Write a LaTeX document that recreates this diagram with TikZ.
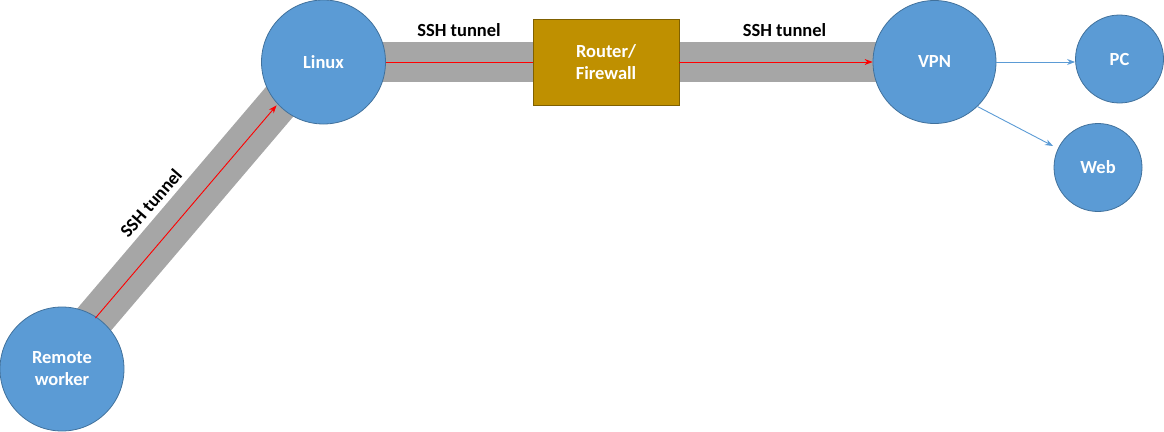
\documentclass[tikz,border=0pt]{standalone}
\usepackage{fontspec}
\setmainfont{Carlito}
\usetikzlibrary{arrows.meta,calc}
\definecolor{cfill}{HTML}{5B9BD5}
\definecolor{cline}{HTML}{41719C}
\definecolor{rfill}{HTML}{BF9000}
\definecolor{rline}{HTML}{7F6000}
\definecolor{band}{HTML}{A6A6A6}
\definecolor{tred}{HTML}{FF0000}
\begin{document}
\begin{tikzpicture}[x=1pt,y=-1pt,
  circ/.style={circle,fill=cfill,draw=cline,line width=0.8pt,inner sep=0pt,
    text=white,font=\fontsize{18.5}{22}\selectfont\bfseries,align=center},
  boxnode/.style={rectangle,fill=rfill,draw=rline,line width=0.8pt,inner sep=0pt,
    minimum width=146pt,minimum height=86pt,
    text=white,font=\fontsize{18.5}{22}\selectfont\bfseries,align=center},
  tunnel/.style={draw=band,line width=40pt},
  redarrow/.style={draw=tred,line width=0.9pt},
  bluearrow/.style={draw=cfill,line width=0.9pt,-{Stealth[length=8pt,width=6pt]}},
  lbl/.style={font=\fontsize{18.5}{22}\selectfont\bfseries,text=black,inner sep=0pt}]
\useasboundingbox (0,0) rectangle (1164,431);
% centres
\coordinate (crw) at (62,369);
\coordinate (cli) at (323.5,62);
\coordinate (cvp) at (934.5,62);
\coordinate (drw) at (52,369);
\coordinate (dli) at (313.5,62);
% tunnels
\draw[tunnel] (drw) -- (dli);
\draw[tunnel] (cli) -- (cvp);
% nodes
\node[circ,minimum size=124pt] (rw) at (crw) {Remote\\worker};
\node[circ,minimum size=124pt] (linux) at (cli) {Linux};
\node[boxnode] (router) at (606,62) {Router/\\Firewall};
\node[circ,minimum size=123pt] (vpn) at (cvp) {VPN};
\node[circ,minimum size=88pt] (pc) at (1119.5,59) {PC};
\node[circ,minimum size=88pt] (web) at (1098,167.5) {Web};
% red arrows
\draw[redarrow,-{Stealth[length=8pt,width=6pt]},shorten <=67pt,shorten >=57pt] (drw) -- (dli);
\draw[redarrow] (linux.east) -- (router.west);
\draw[redarrow,-{Stealth[length=8pt,width=6pt]}] (router.east) -- (vpn.west);
% blue arrows
\draw[bluearrow] (vpn.east) -- (vpn.east -| pc.west);
\coordinate (webend) at (1053,146);
\draw[bluearrow] (vpn.-46) -- (webend);
% labels
\node[lbl] (l1) at (459,30) {SSH tunnel};
\node[lbl] (l2) at (784.5,30) {SSH tunnel};
\node[lbl,rotate=49] (l3) at (151,203) {SSH tunnel};
\end{tikzpicture}
\end{document}
